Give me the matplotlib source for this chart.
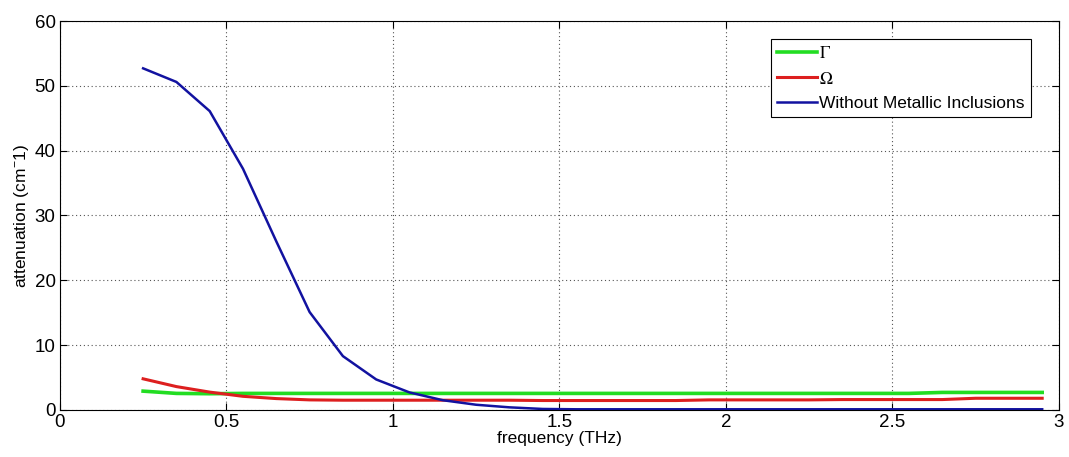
import matplotlib
matplotlib.use("Agg")
import matplotlib.pyplot as plt

freq = [0.25, 0.35, 0.45, 0.55, 0.65, 0.75, 0.85, 0.95, 1.05, 1.15, 1.25, 1.35,
        1.45, 1.55, 1.65, 1.75, 1.85, 1.95, 2.05, 2.15, 2.25, 2.35, 2.45, 2.55,
        2.65, 2.75, 2.85, 2.95]
gamma = [2.9, 2.55, 2.5, 2.55, 2.55, 2.55, 2.55, 2.55, 2.55, 2.55, 2.55, 2.55,
         2.55, 2.55, 2.55, 2.55, 2.55, 2.55, 2.55, 2.55, 2.55, 2.55, 2.55, 2.55,
         2.7, 2.7, 2.7, 2.7]
omega = [4.8, 3.6, 2.75, 2.1, 1.75, 1.55, 1.5, 1.5, 1.5, 1.5, 1.5, 1.5,
         1.45, 1.45, 1.45, 1.45, 1.45, 1.55, 1.55, 1.55, 1.55, 1.6, 1.6, 1.6,
         1.6, 1.8, 1.8, 1.8]
without = [52.7, 50.6, 46.1, 37.2, 26.0, 15.1, 8.3, 4.7, 2.7, 1.5, 0.8, 0.4,
           0.15, 0.1, 0.1, 0.1, 0.1, 0.1, 0.1, 0.1, 0.1, 0.1, 0.1, 0.1,
           0.1, 0.1, 0.1, 0.1]

labels = [r"$\Gamma$", r"$\Omega$", "Without Metallic Inclusions"]
xticks = [0, 0.5, 1, 1.5, 2, 2.5, 3]
xticklabels = ["0", "0.5", "1", "1.5", "2", "2.5", "3"]
yticks = [0, 10, 20, 30, 40, 50, 60]

plt.rcParams['font.family'] = ['Liberation Sans', 'DejaVu Sans']
plt.rcParams['mathtext.fontset'] = 'stix'

fig = plt.figure(figsize=(10.69, 4.57), dpi=100)
ax = fig.add_axes([0.056, 0.103, 0.9345, 0.851])

ax.plot(freq, gamma, color='#22dd22', lw=2.6, label=labels[0])
ax.plot(freq, omega, color='#dd1f1f', lw=2.2, label=labels[1])
ax.plot(freq, without, color='#1212a0', lw=1.8, label=labels[2])

ax.set_xlim(0, 3)
ax.set_ylim(0, 60)
ax.set_xticks(xticks)
ax.set_xticklabels(xticklabels)
ax.set_yticks(yticks)
ax.tick_params(direction='in', top=True, right=True, labelsize=13.5, length=5, width=0.8, pad=3)
ax.grid(True, linestyle=(0, (1, 2.5)), color='#555555', linewidth=0.8)
for s in ax.spines.values():
    s.set_linewidth(0.8)

ax.set_xlabel("frequency (THz)", fontsize=12.5, labelpad=0)
ax.set_ylabel("attenuation (cm$^{\\mathregular{-}}$1)", fontsize=12.5, labelpad=3)

leg = ax.legend(loc='upper right', bbox_to_anchor=(0.972, 0.954), borderaxespad=0,
                fancybox=False, edgecolor='black', framealpha=1, fontsize=12.5,
                handlelength=2.3, handletextpad=0.15, labelspacing=0.55,
                borderpad=0.35)
leg.get_frame().set_linewidth(0.8)

fig.savefig("out.png", dpi=100)
